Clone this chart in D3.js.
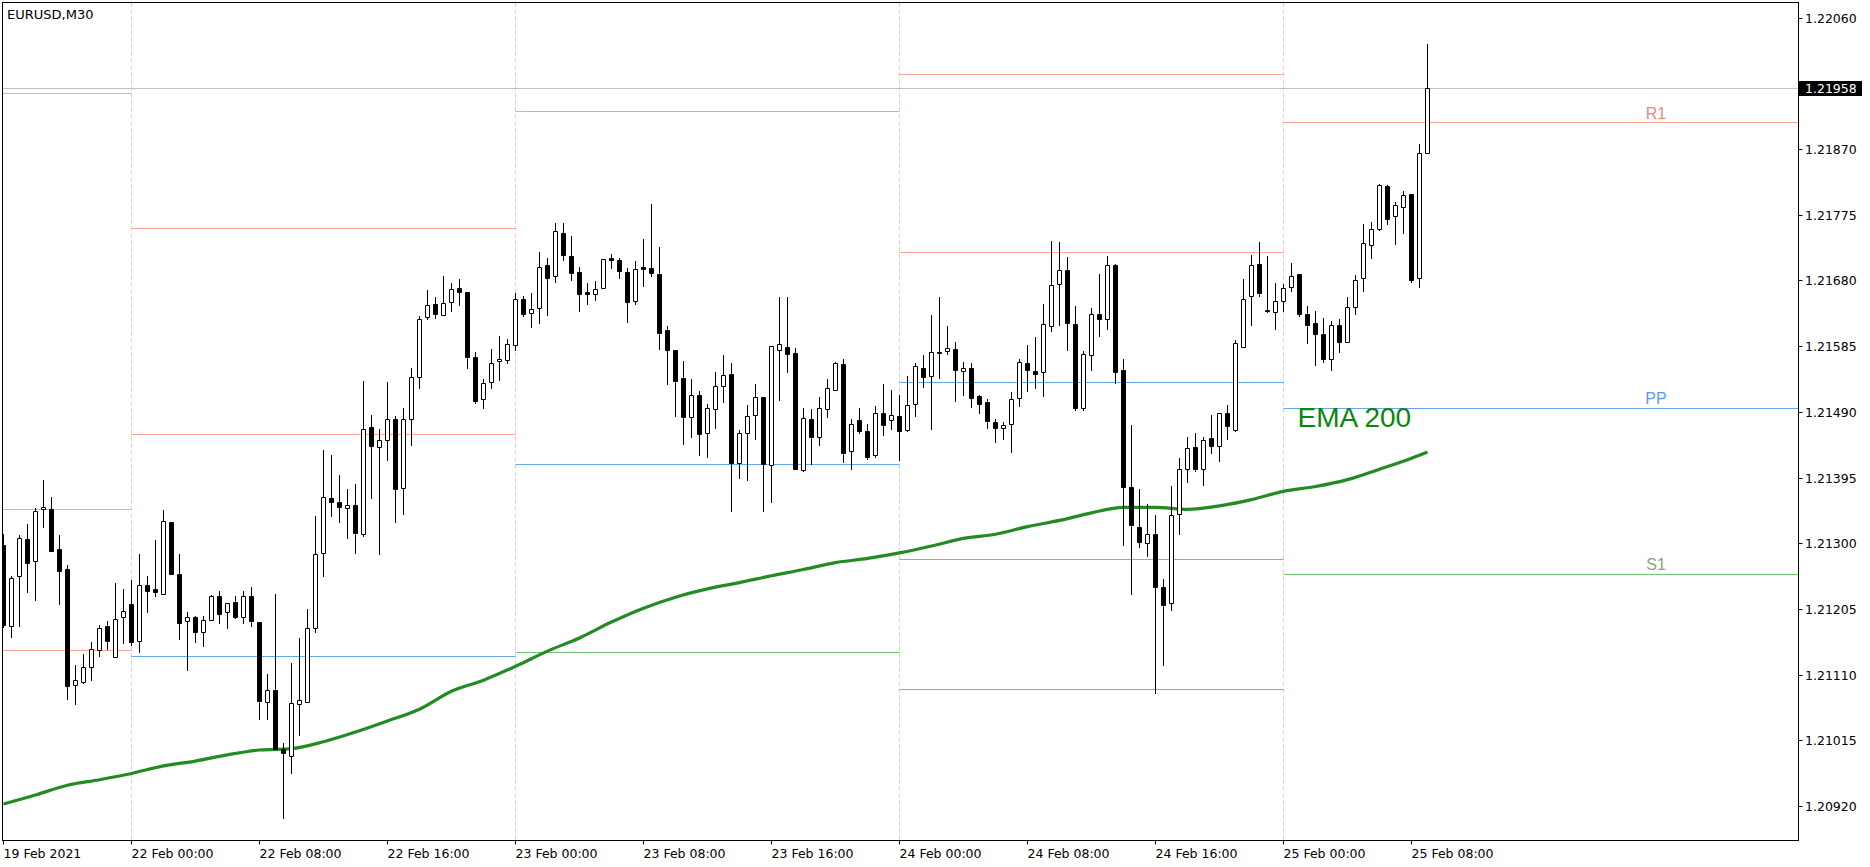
<!DOCTYPE html>
<html><head><meta charset="utf-8">
<script src="https://cdn.jsdelivr.net/npm/d3@7"></script>
<style>html,body{margin:0;padding:0;background:#fff;}svg{display:block;}</style>
</head><body>
<svg id="chart" width="1870" height="867"></svg>
<script>
// ---------- DATA ----------
const symbolTitle = "EURUSD,M30";
const openP = [1.21298,1.21181,1.21252,1.21306,1.21274,1.21349,1.21349,1.21292,1.21263,1.21095,1.21100,1.21121,1.21145,1.21180,1.21136,1.21194,1.21212,1.21159,1.21239,1.21234,1.21227,1.21331,1.21256,1.21187,1.21193,1.21171,1.21189,1.21224,1.21200,1.21215,1.21194,1.21224,1.21186,1.21071,1.21088,1.21002,1.20993,1.21067,1.21071,1.21177,1.21286,1.21366,1.21359,1.21351,1.21356,1.21314,1.21468,1.21439,1.21450,1.21479,1.21380,1.21479,1.21540,1.21627,1.21646,1.21630,1.21649,1.21669,1.21663,1.21569,1.21508,1.21533,1.21563,1.21565,1.21586,1.21653,1.21633,1.21640,1.21702,1.21686,1.21748,1.21715,1.21692,1.21663,1.21661,1.21669,1.21712,1.21709,1.21692,1.21651,1.21699,1.21698,1.21690,1.21609,1.21580,1.21539,1.21482,1.21514,1.21460,1.21494,1.21527,1.21545,1.21416,1.21459,1.21485,1.21511,1.21413,1.21580,1.21584,1.21575,1.21406,1.21480,1.21453,1.21494,1.21522,1.21559,1.21433,1.21478,1.21463,1.21427,1.21488,1.21478,1.21484,1.21464,1.21501,1.21553,1.21542,1.21576,1.21578,1.21581,1.21549,1.21553,1.21513,1.21504,1.21476,1.21466,1.21472,1.21510,1.21560,1.21549,1.21547,1.21614,1.21675,1.21695,1.21617,1.21495,1.21572,1.21632,1.21624,1.21702,1.21550,1.21381,1.21323,1.21301,1.21314,1.21236,1.21213,1.21342,1.21408,1.21439,1.21408,1.21452,1.21440,1.21488,1.21464,1.21584,1.21657,1.21704,1.21637,1.21634,1.21650,1.21670,1.21689,1.21631,1.21618,1.21602,1.21566,1.21616,1.21591,1.21642,1.21683,1.21732,1.21755,1.21817,1.21773,1.21786,1.21805,1.21683,1.21864];
const highP = [1.21314,1.21253,1.21312,1.21328,1.21351,1.21392,1.21367,1.21312,1.21269,1.21124,1.21140,1.21157,1.21182,1.21188,1.21243,1.21234,1.21247,1.21284,1.21253,1.21305,1.21348,1.21331,1.21284,1.21201,1.21195,1.21195,1.21225,1.21231,1.21213,1.21224,1.21231,1.21237,1.21186,1.21111,1.21227,1.21011,1.21127,1.21163,1.21205,1.21340,1.21435,1.21428,1.21398,1.21378,1.21386,1.21535,1.21486,1.21465,1.21533,1.21484,1.21496,1.21554,1.21629,1.21666,1.21656,1.21687,1.21677,1.21682,1.21663,1.21577,1.21537,1.21581,1.21600,1.21595,1.21662,1.21658,1.21662,1.21721,1.21712,1.21763,1.21763,1.21744,1.21699,1.21677,1.21679,1.21711,1.21718,1.21712,1.21698,1.21708,1.21740,1.21791,1.21728,1.21614,1.21580,1.21564,1.21538,1.21520,1.21501,1.21548,1.21572,1.21561,1.21464,1.21500,1.21530,1.21511,1.21585,1.21656,1.21656,1.21582,1.21495,1.21494,1.21511,1.21538,1.21562,1.21566,1.21480,1.21496,1.21472,1.21498,1.21530,1.21522,1.21514,1.21542,1.21561,1.21572,1.21630,1.21656,1.21614,1.21591,1.21562,1.21560,1.21515,1.21508,1.21480,1.21475,1.21518,1.21567,1.21587,1.21598,1.21646,1.21737,1.21735,1.21714,1.21643,1.21578,1.21640,1.21689,1.21715,1.21704,1.21566,1.21471,1.21378,1.21357,1.21341,1.21248,1.21383,1.21423,1.21454,1.21460,1.21454,1.21486,1.21488,1.21500,1.21594,1.21682,1.21717,1.21736,1.21715,1.21676,1.21675,1.21705,1.21689,1.21643,1.21636,1.21626,1.21621,1.21624,1.21656,1.21688,1.21762,1.21765,1.21820,1.21818,1.21794,1.21809,1.21805,1.21877,1.22022];
const lowP = [1.21179,1.21165,1.21181,1.21229,1.21218,1.21324,1.21289,1.21212,1.21075,1.21068,1.21098,1.21102,1.21137,1.21147,1.21136,1.21156,1.21153,1.21142,1.21200,1.21223,1.21227,1.21256,1.21162,1.21117,1.21157,1.21152,1.21189,1.21185,1.21178,1.21192,1.21185,1.21181,1.21046,1.21046,1.21003,1.20903,1.20968,1.21023,1.21071,1.21171,1.21252,1.21339,1.21330,1.21307,1.21286,1.21310,1.21365,1.21284,1.21420,1.21331,1.21342,1.21442,1.21524,1.21624,1.21625,1.21630,1.21636,1.21645,1.21554,1.21503,1.21496,1.21524,1.21536,1.21560,1.21579,1.21629,1.21613,1.21619,1.21630,1.21678,1.21709,1.21681,1.21636,1.21646,1.21652,1.21669,1.21698,1.21683,1.21620,1.21646,1.21672,1.21687,1.21581,1.21530,1.21484,1.21443,1.21453,1.21428,1.21425,1.21466,1.21504,1.21346,1.21395,1.21392,1.21451,1.21346,1.21359,1.21507,1.21548,1.21408,1.21404,1.21414,1.21442,1.21482,1.21521,1.21418,1.21408,1.21459,1.21422,1.21425,1.21457,1.21465,1.21420,1.21463,1.21484,1.21526,1.21465,1.21539,1.21573,1.21505,1.21515,1.21497,1.21489,1.21467,1.21446,1.21451,1.21432,1.21499,1.21520,1.21524,1.21513,1.21607,1.21615,1.21579,1.21492,1.21492,1.21551,1.21600,1.21610,1.21532,1.21298,1.21226,1.21295,1.21281,1.21084,1.21124,1.21204,1.21313,1.21389,1.21404,1.21384,1.21431,1.21419,1.21451,1.21463,1.21584,1.21615,1.21658,1.21635,1.21610,1.21636,1.21665,1.21628,1.21589,1.21558,1.21562,1.21551,1.21577,1.21591,1.21632,1.21665,1.21713,1.21753,1.21762,1.21733,1.21748,1.21678,1.21670,1.21864];
const closeP = [1.21182,1.21249,1.21307,1.21272,1.21346,1.21352,1.21289,1.21260,1.21094,1.21102,1.21121,1.21147,1.21178,1.21158,1.21191,1.21202,1.21157,1.21239,1.21231,1.21230,1.21332,1.21256,1.21185,1.21194,1.21171,1.21189,1.21224,1.21198,1.21213,1.21194,1.21224,1.21187,1.21072,1.21088,1.21003,1.20996,1.21069,1.21073,1.21178,1.21284,1.21367,1.21359,1.21352,1.21355,1.21315,1.21465,1.21441,1.21450,1.21479,1.21378,1.21479,1.21540,1.21624,1.21644,1.21631,1.21647,1.21667,1.21663,1.21570,1.21505,1.21531,1.21560,1.21566,1.21588,1.21653,1.21631,1.21639,1.21699,1.21684,1.21751,1.21717,1.21691,1.21660,1.21660,1.21667,1.21711,1.21710,1.21693,1.21649,1.21696,1.21697,1.21691,1.21604,1.21579,1.21534,1.21482,1.21514,1.21458,1.21495,1.21528,1.21543,1.21416,1.21459,1.21484,1.21511,1.21414,1.21585,1.21588,1.21573,1.21408,1.21481,1.21453,1.21495,1.21524,1.21560,1.21431,1.21473,1.21463,1.21424,1.21488,1.21471,1.21485,1.21463,1.21500,1.21557,1.21541,1.21576,1.21575,1.21582,1.21550,1.21553,1.21510,1.21502,1.21477,1.21467,1.21471,1.21508,1.21562,1.21550,1.21545,1.21617,1.21673,1.21695,1.21618,1.21495,1.21573,1.21631,1.21624,1.21702,1.21548,1.21382,1.21327,1.21302,1.21314,1.21237,1.21211,1.21341,1.21407,1.21437,1.21408,1.21450,1.21440,1.21488,1.21469,1.21589,1.21653,1.21702,1.21662,1.21636,1.21651,1.21669,1.21686,1.21632,1.21615,1.21602,1.21566,1.21616,1.21591,1.21642,1.21681,1.21734,1.21754,1.21818,1.21769,1.21789,1.21803,1.21680,1.21864,1.21958];

// EMA 200 read at sampled candle indexes
const emaIdx = [0,4,8,12,16,20,24,28,32,36,40,44,48,52,56,60,64,68,72,76,80,84,88,92,96,100,104,108,112,116,120,124,128,132,136,140,144,148,152,156,160,164,168,172,176,178];
const emaVal = [1.20923,1.20936,1.20950,1.20958,1.20967,1.20978,1.20985,1.20994,1.21001,1.21003,1.21013,1.21027,1.21043,1.21060,1.21086,1.21102,1.21122,1.21144,1.21163,1.21186,1.21206,1.21222,1.21234,1.21243,1.21253,1.21262,1.21272,1.21278,1.21286,1.21296,1.21307,1.21313,1.21324,1.21333,1.21344,1.21352,1.21352,1.21349,1.21354,1.21363,1.21375,1.21382,1.21392,1.21407,1.21423,1.21432];

// daily pivot segments (start candle index of each day)
const dayStart = [-1, 16, 64, 112, 160];
const dayEnd   = [16, 64, 112, 160, 260];
const resLevels = [[1.21951,1.21349,1.21145],[1.21756,1.21458],[1.21925],[1.21978,1.21721],[1.21909]];
const ppLevels  = [null,1.21137,1.21414,1.21533,1.21496];
const supLevels = [[],[],[1.21142],[1.21277,1.21089],[1.21256]];
const lastLabels = ["R1","PP","S1"];

const lastPrice = 1.21958;
const yTicks = [1.22060,1.21870,1.21775,1.21680,1.21585,1.21490,1.21395,1.21300,1.21205,1.21110,1.21015,1.20920];
const xTickIdx = [0,16,32,48,64,80,96,112,128,144,160,176];
const xTickLabels = ["19 Feb 2021","22 Feb 00:00","22 Feb 08:00","22 Feb 16:00","23 Feb 00:00","23 Feb 08:00","23 Feb 16:00","24 Feb 00:00","24 Feb 08:00","24 Feb 16:00","25 Feb 00:00","25 Feb 08:00"];
const daySepIdx = [16,64,112,160];
const emaLabel = "EMA 200";

// ---------- LAYOUT ----------
const L = 2.5, T = 2.5, R = 1798.5, B = 840.5;
const svg = d3.select("#chart");
const x = d3.scaleLinear().domain([0, 178]).range([3.5, 1427.5]);
const y = d3.scaleLinear().domain([1.20920, 1.22060]).range([806, 17.7]);
const cy = v => Math.round(y(v)) + 0.5;

svg.append("rect").attr("width",1870).attr("height",867).attr("fill","#fff");
svg.append("defs").append("clipPath").attr("id","plotclip")
  .append("rect").attr("x",L).attr("y",T).attr("width",R-L).attr("height",B-T);
const plot = svg.append("g").attr("clip-path","url(#plotclip)");

// day separators
plot.selectAll(".sep").data(daySepIdx).enter().append("line")
  .attr("x1",d=>x(d)).attr("x2",d=>x(d)).attr("y1",T).attr("y2",B)
  .attr("stroke","#cfcfcf").attr("stroke-width",1).attr("stroke-dasharray","4,3");

// current price line
plot.append("line").attr("x1",L).attr("x2",R).attr("y1",cy(lastPrice)).attr("y2",cy(lastPrice))
  .attr("stroke","#c0c0c0").attr("stroke-width",1);

// pivots
const segs = [];
dayStart.forEach((s,k)=>{
  resLevels[k].forEach(v=>segs.push({s, e:dayEnd[k], v, c:"#f7a395"}));
  if (ppLevels[k]!==null) segs.push({s, e:dayEnd[k], v:ppLevels[k], c:"#66a6ee"});
  supLevels[k].forEach(v=>segs.push({s, e:dayEnd[k], v, c:"#72c872"}));
});
plot.selectAll(".piv").data(segs).enter().append("line")
  .attr("x1",d=>x(d.s)).attr("x2",d=>x(d.e)).attr("y1",d=>cy(d.v)).attr("y2",d=>cy(d.v))
  .attr("stroke",d=>d.c).attr("stroke-width",1);

// labels of last day's pivots
const lastK = dayStart.length-1;
const lblData = [
  {t:lastLabels[0], v:resLevels[lastK][0], c:"#f08878"},
  {t:lastLabels[1], v:ppLevels[lastK], c:"#5a9ee0"},
  {t:lastLabels[2], v:supLevels[lastK][0], c:"#86a676"}];
plot.selectAll(".plbl").data(lblData).enter().append("text")
  .attr("x",1656).attr("y",d=>y(d.v)-3.5).attr("text-anchor","middle")
  .attr("font-family","'Liberation Sans',Arial,sans-serif").attr("font-size",16)
  .attr("fill",d=>d.c).text(d=>d.t);

// EMA line
const emaData = emaIdx.map((d,k)=>[d, emaVal[k]]);
plot.append("path").datum(emaData)
  .attr("d", d3.line().x(d=>x(d[0])).y(d=>y(d[1])).curve(d3.curveMonotoneX))
  .attr("fill","none").attr("stroke","#228b22").attr("stroke-width",3.2).attr("stroke-linejoin","round");
plot.append("text").attr("x",x(161.75)).attr("y",y(1.21468))
  .attr("font-family","'Liberation Sans',Arial,sans-serif").attr("font-size",28)
  .attr("fill","#0a870a").text(emaLabel);

// candles
const candles = openP.map((o,i)=>({i,o,h:highP[i],l:lowP[i],c:closeP[i]}));
const cg = plot.append("g");
cg.selectAll(".wick").data(candles).enter().append("line")
  .attr("x1",d=>x(d.i)).attr("x2",d=>x(d.i))
  .attr("y1",d=>Math.round(y(d.h))).attr("y2",d=>Math.round(y(d.l))+1)
  .attr("stroke","#000").attr("stroke-width",1);
cg.selectAll(".body").data(candles).enter().append("path")
  .attr("d",d=>{
    const t = cy(Math.max(d.o,d.c)), b = cy(Math.min(d.o,d.c)), cx = x(d.i);
    return `M${cx-2},${t}H${cx+2}V${b}H${cx-2}Z`;
  })
  .attr("fill",d=>d.c>d.o?"#fff":"#000").attr("stroke","#000").attr("stroke-width",1);

// frame
svg.append("rect").attr("x",L).attr("y",T).attr("width",R-L).attr("height",B-T)
  .attr("fill","none").attr("stroke","#000").attr("stroke-width",1);

// title
svg.append("text").attr("x",7).attr("y",19).attr("font-family","'DejaVu Sans',sans-serif")
  .attr("font-size",13).attr("fill","#000").text(symbolTitle);

// right axis
const fmt = d3.format(".5f");
const ya = svg.append("g");
ya.selectAll("line").data(yTicks).enter().append("line")
  .attr("x1",R).attr("x2",R+4).attr("y1",d=>cy(d)).attr("y2",d=>cy(d)).attr("stroke","#000");
ya.selectAll("text").data(yTicks).enter().append("text")
  .attr("x",1805).attr("y",d=>y(d)+5).attr("font-family","'DejaVu Sans',sans-serif")
  .attr("font-size",12.5).attr("fill","#000").text(d=>fmt(d));
// last price box
ya.append("rect").attr("x",1799).attr("y",Math.round(y(lastPrice))-7).attr("width",63).attr("height",15).attr("fill","#000");
ya.append("text").attr("x",1805).attr("y",y(lastPrice)+5).attr("font-family","'DejaVu Sans',sans-serif")
  .attr("font-size",12.5).attr("fill","#fff").text(fmt(lastPrice));

// bottom axis
const xa = svg.append("g");
xa.selectAll("line").data(xTickIdx).enter().append("line")
  .attr("x1",d=>x(d)).attr("x2",d=>x(d)).attr("y1",B).attr("y2",B+4).attr("stroke","#000");
xa.selectAll("text").data(xTickIdx).enter().append("text")
  .attr("x",(d)=>Math.round(x(d))-0.5).attr("y",858).attr("font-family","'DejaVu Sans',sans-serif")
  .attr("font-size",12.5).attr("fill","#000").text((d,k)=>xTickLabels[k]);
</script>
</body></html>
